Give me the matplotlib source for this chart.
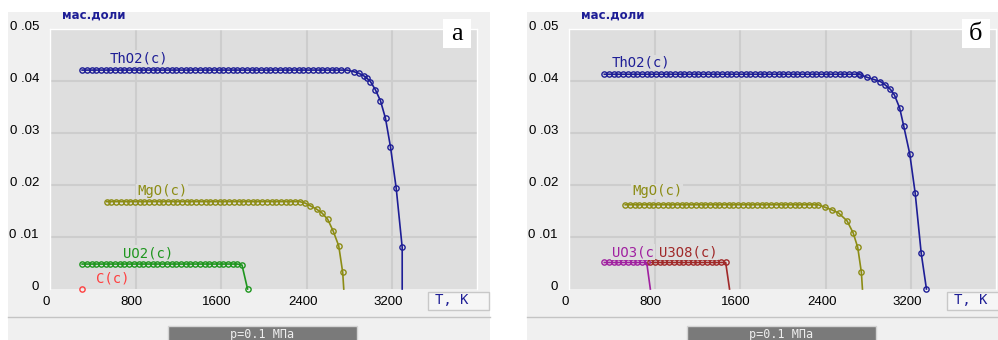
import numpy as np
import matplotlib.pyplot as plt
from matplotlib.patches import Rectangle
import matplotlib.transforms as mtransforms

# panel "а": plateau level, plateau T range, then the drop-off points
th_a_level = 0.0421
th_a_start, th_a_end = 300, 2760
th_a_T = [2776, 2838, 2885, 2932, 2963, 2994, 3041, 3088, 3135, 3181, 3235, 3291, 3291]
th_a_v = [0.0421, 0.0418, 0.0415, 0.0410, 0.0405, 0.0399, 0.0383, 0.0362, 0.0328, 0.0274, 0.0194, 0.0080, 0.0]

mg_a_level = 0.0168
mg_a_start, mg_a_end = 530, 2350
mg_a_T = [2386, 2433, 2495, 2542, 2595, 2645, 2698, 2735, 2745]
mg_a_v = [0.0165, 0.0160, 0.0153, 0.0146, 0.0134, 0.0112, 0.0083, 0.0032, 0.0]

uo2_a_level = 0.0048
uo2_a_start, uo2_a_end = 300, 1770
uo2_a_T = [1794, 1846]
uo2_a_v = [0.0046, 0.0]

c_a_T = [297]
c_a_v = [0.0]

# panel "б"
th_b_level = 0.0413
th_b_start, th_b_end = 330, 2710
th_b_T = [2723, 2786, 2847, 2910, 2957, 3003, 3041, 3090, 3128, 3184, 3235, 3291, 3340]
th_b_v = [0.0412, 0.0407, 0.0403, 0.0399, 0.0392, 0.0384, 0.0373, 0.0348, 0.0313, 0.0260, 0.0184, 0.0069, 0.0]

mg_b_level = 0.0162
mg_b_start, mg_b_end = 525, 2340
mg_b_T = [2395, 2458, 2520, 2598, 2655, 2698, 2732, 2742]
mg_b_v = [0.0157, 0.0152, 0.0146, 0.0131, 0.0108, 0.0080, 0.0032, 0.0]

uo3_b_level = 0.0051
uo3_b_start, uo3_b_end = 330, 765
uo3_b_T = [760]
uo3_b_v = [0.0]

u3o8_b_level = 0.0051
u3o8_b_start, u3o8_b_end = 760, 1505
u3o8_b_T = [1500]
u3o8_b_v = [0.0]

x_ticks = [0, 800, 1600, 2400, 3200]
y_ticks = [0, 0.01, 0.02, 0.03, 0.04, 0.05]
y_labels = ['0', '0 .01', '0 .02', '0 .03', '0 .04', '0 .05']

c_th = '#1e1e96'
c_mg = '#8c8c14'
c_uo2 = '#1e961e'
c_c = '#ff4040'
c_uo3 = '#a020a0'
c_u3o8 = '#a02828'

W, H = 998, 340
fig = plt.figure(figsize=(W / 100, H / 100), dpi=100)
fig.patch.set_facecolor('white')


def rect(x0, y0, x1, y1, **kw):
    r = Rectangle((x0 / W, 1 - y1 / H), (x1 - x0) / W, (y1 - y0) / H,
                  transform=fig.transFigure, **kw)
    fig.add_artist(r)


def ftext(x, y, s, **kw):
    fig.text(x / W, 1 - y / H, s, **kw)


def series(level, start, end, Ts, vs):
    T = np.concatenate([np.arange(start, end, 44), Ts])
    v = np.concatenate([np.full(len(T) - len(Ts), level), vs])
    return T, v


def draw(ax, T, v, color, mark_last=True):
    ax.plot(T, v, color=color, lw=1.2, clip_on=False, zorder=3)
    n = len(T) if mark_last else len(T) - 1
    ax.plot(T[:n], v[:n], ls='none', marker='o', ms=3.8, mfc='none',
            mec=color, mew=1.0, clip_on=False, zorder=4)


def label(ax, T, v, s, color):
    ax.text(T, v, s, color=color, fontsize=10, family='DejaVu Sans Mono',
            va='center', ha='left', zorder=5,
            bbox=dict(facecolor='#dedede', edgecolor='none', pad=0.5))


def panel(px0, px1, plot_x0, letter):
    rect(px0, 12, px1, 345, facecolor='#f0f0f0', edgecolor='none', zorder=0)
    ax = fig.add_axes([plot_x0 / W, (H - 289) / H, 427 / W, 260 / H])
    ax.set_facecolor('#dedede')
    ax.set_xlim(0, 3990)
    ax.set_ylim(0, 0.05)
    ax.set_xticks(x_ticks)
    ax.set_yticks(y_ticks)
    ax.set_yticklabels(y_labels)
    ax.tick_params(length=0, labelsize=9.5, pad=8)
    ax.tick_params(axis='x', pad=5)
    for lab in ax.get_xticklabels() + ax.get_yticklabels():
        lab.set_family('Liberation Sans')
    dx = mtransforms.ScaledTranslation(-0.04, 0, fig.dpi_scale_trans)
    for lab in ax.get_xticklabels():
        lab.set_transform(lab.get_transform() + dx)
    dy = mtransforms.ScaledTranslation(0, 0.04, fig.dpi_scale_trans)
    for lab in ax.get_yticklabels():
        lab.set_transform(lab.get_transform() + dy)
    ax.grid(True, color='#cdcdcd', lw=1.5)
    ax.xaxis.get_gridlines()[0].set_visible(False)
    ax.yaxis.get_gridlines()[0].set_visible(False)
    ax.set_axisbelow(True)
    for side in ['left', 'top', 'right']:
        ax.spines[side].set_color('white')
        ax.spines[side].set_linewidth(1)
    ax.spines['bottom'].set_visible(False)

    ftext(plot_x0 + 12, 15, 'мас.доли', color=c_th, fontsize=8.5,
          weight='bold', va='center', ha='left')

    # letter box
    rect(plot_x0 + 393, 19, plot_x0 + 421, 48, facecolor='white', edgecolor='none', zorder=5)
    ftext(plot_x0 + 407, 34, letter, fontsize=19, family='Liberation Serif',
          ha='center', va='center', zorder=6)

    # T, K box
    rect(plot_x0 + 378, 292, plot_x0 + 439, 310, facecolor='#f6f6f6',
         edgecolor='#c8c8c8', lw=1, zorder=2)
    ftext(plot_x0 + 385, 300, 'T, K', color=c_th, fontsize=10,
          family='DejaVu Sans Mono', ha='left', va='center', zorder=3)

    # separator and pressure box
    fig.add_artist(plt.Line2D([px0 / W, px1 / W], [1 - 317 / H, 1 - 317 / H],
                              transform=fig.transFigure, color='#c4c4c4', lw=1))
    rect(plot_x0 + 118, 326, plot_x0 + 307, 348, facecolor='#7a7a7a',
         edgecolor='#d4d4d4', lw=1, zorder=2)
    ftext(plot_x0 + 212, 328, 'p=0.1 МПа', color='#eeeeee', fontsize=8.5,
          family='DejaVu Sans Mono', ha='center', va='top', zorder=3)
    return ax


# panel а
ax = panel(8, 490, 50, 'а')
T, v = series(th_a_level, th_a_start, th_a_end, th_a_T, th_a_v)
draw(ax, T, v, c_th, mark_last=False)
T, v = series(mg_a_level, mg_a_start, mg_a_end, mg_a_T, mg_a_v)
draw(ax, T, v, c_mg, mark_last=False)
T, v = series(uo2_a_level, uo2_a_start, uo2_a_end, uo2_a_T, uo2_a_v)
draw(ax, T, v, c_uo2)
draw(ax, np.array(c_a_T), np.array(c_a_v), c_c)
label(ax, 561, 0.0444, 'ThO2(c)', c_th)
label(ax, 814, 0.0188, 'MgO(c)', c_mg)
label(ax, 683, 0.0069, 'UO2(c)', c_uo2)
label(ax, 430, 0.0021, 'C(c)', c_c)

# panel б
ax = panel(527, 1000, 569, 'б')
T, v = series(th_b_level, th_b_start, th_b_end, th_b_T, th_b_v)
draw(ax, T, v, c_th)
T, v = series(mg_b_level, mg_b_start, mg_b_end, mg_b_T, mg_b_v)
draw(ax, T, v, c_mg, mark_last=False)
T, v = series(uo3_b_level, uo3_b_start, uo3_b_end, uo3_b_T, uo3_b_v)
draw(ax, T, v, c_uo3, mark_last=False)
T, v = series(u3o8_b_level, u3o8_b_start, u3o8_b_end, u3o8_b_T, u3o8_b_v)
draw(ax, T, v, c_u3o8, mark_last=False)
label(ax, 402, 0.0435, 'ThO2(c)', c_th)
label(ax, 589, 0.0188, 'MgO(c)', c_mg)
label(ax, 402, 0.0071, 'UO3(c', c_uo3)
label(ax, 842, 0.0071, 'U3O8(c)', c_u3o8)

fig.savefig('out.png', dpi=100)
